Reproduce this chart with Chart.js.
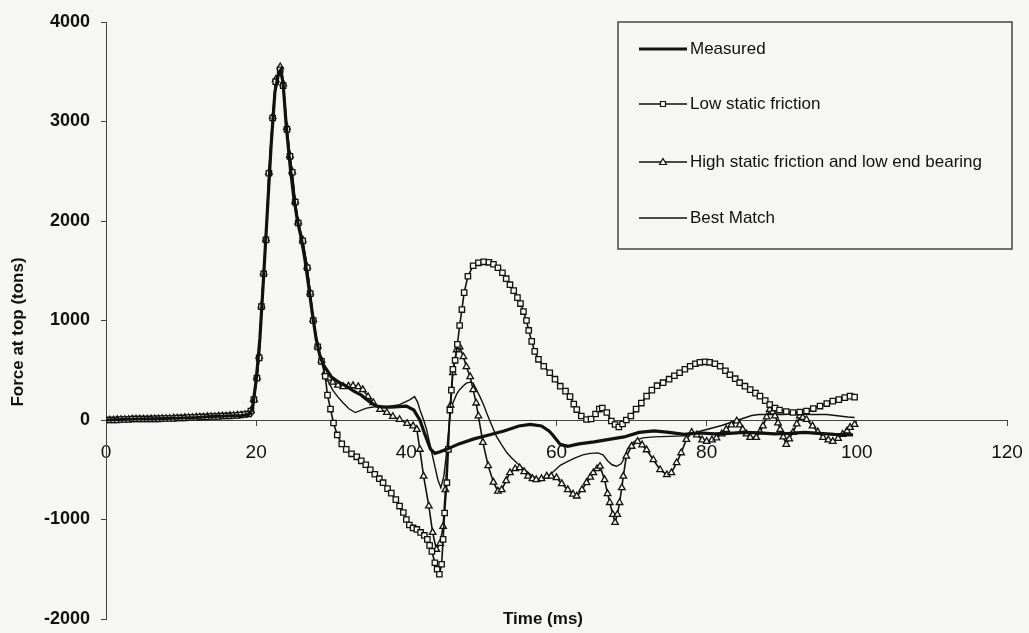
<!DOCTYPE html>
<html>
<head>
<meta charset="utf-8">
<script src="https://cdn.jsdelivr.net/npm/chart.js@4.4.0/dist/chart.umd.min.js"></script>
<style>
  html, body { margin: 0; padding: 0; background: #f6f6f4; }
  #wrap { width: 1029px; height: 633px; position: relative; }
</style>
</head>
<body>
<div id="wrap"><canvas id="myChart"></canvas></div>
<script>
// values: [time ms, force tons]
var measured = [[0,0],[2,5],[4,10],[6,12],[8,15],[10,20],[12,25],[14,35],[16,40],[18,45],
  [19,55],[19.5,110],[20,400],[20.5,820],[21,1450],[21.5,2110],[22,2770],[22.5,3300],[23,3490],[23.3,3520],
  [23.6,3370],[24,2960],[24.5,2570],[25,2240],[25.5,2000],[26,1830],[26.5,1610],[27,1340],[27.5,1060],[28,810],
  [28.5,640],[29,550],[30,435],[31,380],[32,340],[33,290],[34,250],[35,190],[36,140],[37,130],
  [38,130],[39,135],[40,140],[41,100],[41.8,0],[42.5,-150],[43.2,-290],[43.8,-335],[44.5,-320],[45.5,-290],
  [47,-240],[49,-190],[51,-150],[53,-110],[55,-60],[56.5,-45],[58,-60],[59,-110],[59.5,-150],[60.5,-245],
  [61.5,-265],[63,-240],[65,-220],[67,-195],[69,-170],[71,-125],[73,-110],[75,-125],[77,-145],[79,-130],
  [81,-140],[83,-135],[85,-125],[87,-130],[89,-140],[91,-135],[93,-125],[95,-135],[97,-145],[99.5,-150]];

var lowStatic = [[0,0],[0.5,0],[1,0],[1.5,0],[2,5],[2.5,5],[3,5],[3.5,10],[4,10],[4.5,10],
  [5,10],[5.5,10],[6,10],[6.5,12],[7,12],[7.5,15],[8,15],[8.5,15],[9,15],[9.5,20],
  [10,20],[10.5,20],[11,25],[11.5,25],[12,25],[12.5,30],[13,30],[13.5,30],[14,35],[14.5,35],
  [15,35],[15.5,40],[16,40],[16.5,40],[17,45],[17.5,45],[18,50],[18.5,55],[19,60],[19.3,90],
  [19.7,205],[20.1,420],[20.4,625],[20.7,1140],[21,1470],[21.3,1810],[21.7,2480],[22.2,3035],[22.6,3400],[23.2,3520],
  [23.6,3360],[24.1,2920],[24.5,2650],[24.8,2490],[25.2,2190],[25.6,1980],[26.2,1800],[26.8,1530],[27.2,1270],[27.6,1000],
  [28.2,735],[28.7,590],[29.2,440],[29.5,250],[29.9,110],[30.3,-30],[30.8,-150],[31.4,-240],[32,-295],[32.7,-340],
  [33.4,-370],[34,-410],[34.6,-450],[35.2,-500],[35.8,-545],[36.4,-590],[36.9,-630],[37.5,-690],[38,-735],[38.6,-800],
  [39.1,-865],[39.6,-930],[40,-1000],[40.4,-1055],[40.9,-1085],[41.4,-1100],[41.9,-1130],[42.4,-1160],[42.8,-1200],[43.1,-1260],
  [43.4,-1320],[43.8,-1435],[44.1,-1500],[44.4,-1550],[44.7,-1450],[44.9,-1200],[45.1,-935],[45.4,-630],[45.6,-295],[45.8,100],
  [46,300],[46.2,510],[46.5,600],[46.8,760],[47.1,950],[47.4,1110],[47.7,1280],[48.2,1445],[48.9,1550],[49.6,1580],
  [50.3,1590],[51,1585],[51.6,1565],[52.2,1530],[52.8,1480],[53.3,1420],[53.8,1360],[54.3,1300],[54.8,1230],[55.2,1170],
  [55.6,1090],[56,1000],[56.3,900],[56.7,790],[57.1,690],[57.6,610],[58.3,540],[59.1,475],[59.8,410],[60.5,340],
  [61.2,290],[61.8,235],[62.3,160],[62.7,105],[63.3,40],[64,5],[64.6,10],[65.2,60],[65.7,110],[66.1,120],
  [66.7,75],[67.3,-10],[67.8,-45],[68.3,-70],[68.8,-40],[69.3,0],[69.9,40],[70.6,110],[71.3,170],[72,240],
  [72.7,300],[73.4,345],[74.2,375],[75,410],[75.7,445],[76.4,475],[77.1,510],[77.8,540],[78.5,565],[79.1,580],
  [79.8,585],[80.4,580],[81.1,565],[81.8,540],[82.5,495],[83.1,455],[83.8,415],[84.4,375],[85.1,340],[85.8,305],
  [86.5,270],[87.1,240],[87.8,195],[88.4,155],[89.1,120],[89.7,100],[90.6,85],[91.5,75],[92.4,80],[93.3,90],
  [94.2,115],[95.1,140],[96,165],[96.8,190],[97.6,205],[98.4,225],[99.1,240],[99.7,230]];

var highStatic = [[0,0],[0.5,0],[1,0],[1.5,5],[2,5],[2.5,5],[3,5],[3.5,10],[4,10],[4.5,10],
  [5,10],[5.5,10],[6,12],[6.5,12],[7,12],[7.5,15],[8,15],[8.5,15],[9,20],[9.5,20],
  [10,20],[10.5,25],[11,25],[11.5,25],[12,30],[12.5,30],[13,30],[13.5,35],[14,35],[14.5,35],
  [15,40],[15.5,40],[16,40],[16.5,45],[17,45],[17.5,50],[18,50],[18.5,55],[19,65],[19.3,95],
  [19.7,210],[20.1,430],[20.4,640],[20.7,1150],[21,1480],[21.3,1820],[21.7,2490],[22.2,3050],[22.6,3420],[23.2,3550],
  [23.6,3380],[24.1,2940],[24.5,2660],[24.8,2500],[25.2,2200],[25.6,1990],[26.2,1810],[26.8,1540],[27.2,1280],[27.6,1010],
  [28.2,745],[28.7,600],[29.2,480],[29.7,420],[30.2,380],[30.9,350],[31.6,335],[32.3,340],[32.9,345],[33.6,335],
  [34.2,305],[34.9,235],[35.6,175],[36.5,105],[37.4,75],[38.2,35],[39.1,5],[40.1,-35],[40.9,-60],[41.4,-95],
  [41.8,-295],[42.3,-565],[43,-865],[43.5,-1130],[44,-1300],[44.5,-1240],[44.9,-1070],[45.2,-700],[45.5,-295],[45.9,150],
  [46.2,475],[46.7,705],[47.1,735],[47.6,635],[48,535],[48.5,435],[48.9,305],[49.3,170],[49.6,40],[50.2,-225],
  [50.9,-460],[51.6,-625],[52.2,-715],[52.7,-700],[53.3,-610],[53.8,-530],[54.5,-490],[55.1,-480],[55.7,-520],[56.2,-565],
  [56.8,-590],[57.3,-600],[58,-590],[58.7,-565],[59.3,-565],[60,-580],[60.7,-640],[61.5,-700],[62.2,-745],[62.7,-765],
  [63.4,-700],[64,-630],[64.5,-575],[64.9,-530],[65.4,-490],[65.8,-465],[66.4,-600],[66.8,-740],[67.1,-830],[67.5,-950],
  [67.8,-1030],[68.1,-950],[68.4,-830],[68.7,-680],[68.9,-565],[69.3,-365],[70,-265],[70.8,-215],[71.4,-250],[72,-300],
  [72.9,-400],[73.8,-500],[74.7,-550],[75.3,-530],[76,-430],[76.6,-330],[77.3,-195],[78,-125],[78.7,-150],[79.4,-200],
  [80,-215],[80.7,-200],[81.3,-180],[82,-140],[82.6,-95],[83.3,-50],[84,-10],[84.4,-50],[84.8,-95],[85.3,-140],
  [85.8,-175],[86.6,-175],[87.1,-120],[87.5,-60],[88,30],[88.4,105],[88.8,80],[89.1,40],[89.5,-30],[89.8,-95],
  [90.2,-170],[90.6,-245],[91,-190],[91.5,-125],[92,-40],[92.4,40],[92.8,25],[93.3,5],[94.1,-60],[94.8,-120],
  [95.5,-175],[96.2,-200],[96.8,-215],[97.5,-185],[98.1,-145],[98.7,-110],[99.1,-75],[99.7,-45]];

var bestMatch = [[0,0],[5,10],[10,20],[15,35],[19,60],[19.5,110],[20,400],[20.5,820],[21,1450],[21.5,2120],
  [22,2780],[22.5,3300],[23,3460],[23.3,3480],[23.6,3340],[24,2950],[24.5,2580],[25,2280],[25.5,2020],[26,1850],
  [26.5,1660],[27,1400],[27.5,1080],[28,820],[28.5,640],[29,520],[29.5,400],[30.2,300],[30.9,230],[31.6,170],
  [32.4,110],[33.2,75],[34,100],[34.7,120],[36,135],[37.4,135],[39.1,155],[40.5,205],[41.1,235],[41.5,180],
  [41.8,105],[42.3,0],[42.7,-95],[43.1,-230],[43.5,-365],[43.9,-500],[44.2,-600],[44.6,-680],[45,-565],[45.4,-300],
  [45.8,40],[46.2,170],[46.7,260],[47.1,305],[47.6,345],[48,370],[48.5,380],[48.9,370],[49.3,310],[49.8,235],
  [50.3,150],[50.7,70],[51.3,-40],[52,-165],[52.7,-250],[53.4,-330],[54,-380],[54.7,-430],[55.3,-470],[56,-515],
  [57,-575],[58,-610],[59,-560],[60,-490],[60.5,-455],[61.5,-415],[62.5,-380],[63.5,-350],[64.5,-335],[65.5,-330],
  [66.2,-350],[66.8,-410],[67.4,-450],[68,-465],[68.6,-440],[69,-390],[69.4,-300],[69.9,-240],[70.7,-200],[71.5,-180],
  [73,-170],[75,-165],[77,-160],[78,-140],[79,-115],[80,-95],[81,-75],[82,-55],[83,-30],[84,-5],
  [85,20],[86,45],[87,55],[88.8,55],[90,55],[92,60],[94,55],[96,55],[97.7,40],[98.8,30],[99.7,25]];

var seriesNames = ['Measured', 'Low static friction', 'High static friction and low end bearing', 'Best Match'];
var xTicks = [0, 20, 40, 60, 80, 100, 120];
var yTicks = [-2000, -1000, 0, 1000, 2000, 3000, 4000];

var BG = '#f6f6f4';
var INK = '#111';
var FONT = '"Liberation Sans", Arial, sans-serif';

function pts(arr) {
  return arr.map(function (p) { return { x: p[0], y: p[1] }; });
}

var extras = {
  id: 'extras',
  afterDatasetsDraw: function (chart) {
    var ctx = chart.ctx;
    ctx.save();
    // legend box
    ctx.fillStyle = BG;
    ctx.fillRect(618, 22, 394, 227);
    ctx.strokeStyle = '#444';
    ctx.lineWidth = 1.5;
    ctx.strokeRect(618, 22, 394, 227);
    var rowY = [49, 104, 162, 218];
    chart.data.datasets.forEach(function (ds, i) {
      var y = rowY[i];
      ctx.beginPath();
      ctx.strokeStyle = ds.borderColor;
      ctx.lineWidth = ds.borderWidth;
      ctx.moveTo(639, y);
      ctx.lineTo(687, y);
      ctx.stroke();
      if (ds.pointRadius > 0) {
        ctx.beginPath();
        ctx.lineWidth = 1.2;
        ctx.fillStyle = BG;
        if (ds.pointStyle === 'rect') {
          ctx.rect(660.5, y - 2.5, 5, 5);
        } else {
          ctx.moveTo(663, y - 3.5);
          ctx.lineTo(666.5, y + 2.5);
          ctx.lineTo(659.5, y + 2.5);
          ctx.closePath();
        }
        ctx.fill();
        ctx.stroke();
      }
      ctx.fillStyle = INK;
      ctx.font = '17px ' + FONT;
      ctx.textBaseline = 'middle';
      ctx.textAlign = 'left';
      ctx.fillText(ds.label, 690, y);
    });
    // axis titles
    ctx.fillStyle = INK;
    ctx.font = 'bold 17px ' + FONT;
    ctx.textAlign = 'center';
    ctx.textBaseline = 'middle';
    ctx.fillText('Time (ms)', 543, 619);
    ctx.translate(18, 332);
    ctx.rotate(-Math.PI / 2);
    ctx.fillText('Force at top (tons)', 0, 0);
    ctx.restore();
  }
};

var ctx = document.getElementById('myChart').getContext('2d');
var myChart = new Chart(ctx, {
  type: 'line',
  data: {
    datasets: [{
      label: seriesNames[0],
      data: pts(measured),
      borderColor: INK,
      borderWidth: 3.2,
      pointRadius: 0
    }, {
      label: seriesNames[1],
      data: pts(lowStatic),
      borderColor: INK,
      borderWidth: 1.6,
      pointStyle: 'rect',
      pointRadius: 3.8,
      pointBorderWidth: 1.3,
      pointBorderColor: INK,
      pointBackgroundColor: BG
    }, {
      label: seriesNames[2],
      data: pts(highStatic),
      borderColor: INK,
      borderWidth: 1.6,
      pointStyle: 'triangle',
      pointRadius: 3.8,
      pointBorderWidth: 1.3,
      pointBorderColor: INK,
      pointBackgroundColor: BG
    }, {
      label: seriesNames[3],
      data: pts(bestMatch),
      borderColor: INK,
      borderWidth: 1.4,
      pointRadius: 0
    }]
  },
  options: {
    responsive: true,
    maintainAspectRatio: false,
    animation: false,
    devicePixelRatio: 1,
    layout: { padding: { top: 22, right: 22, bottom: 14, left: 0 } },
    elements: { line: { tension: 0 } },
    plugins: { legend: { display: false }, tooltip: { enabled: false } },
    scales: {
      x: {
        type: 'linear',
        position: { y: 0 },
        min: xTicks[0],
        max: xTicks[xTicks.length - 1],
        afterBuildTicks: function (scale) { scale.ticks = xTicks.map(function (v) { return { value: v }; }); },
        afterFit: function (scale) { scale.paddingLeft = 0; scale.paddingRight = 0; },
        ticks: {
          color: INK, font: { family: FONT, size: 19 }, padding: 16,
          callback: function (v) { return String(v); }
        },
        grid: { drawOnChartArea: false, drawTicks: true, tickLength: 5, color: '#444' },
        border: { color: '#444', width: 1 }
      },
      y: {
        type: 'linear',
        min: yTicks[0],
        max: yTicks[yTicks.length - 1],
        afterBuildTicks: function (scale) { scale.ticks = yTicks.map(function (v) { return { value: v }; }); },
        afterFit: function (scale) { scale.width = 106; scale.paddingTop = 0; scale.paddingBottom = 0; },
        ticks: {
          color: INK, font: { family: FONT, size: 18, weight: 'bold' }, padding: 11,
          callback: function (v) { return String(v); }
        },
        grid: { drawOnChartArea: false, drawTicks: true, tickLength: 5, color: '#444' },
        border: { color: '#444', width: 1 }
      }
    }
  },
  plugins: [extras]
});
</script>
</body>
</html>
